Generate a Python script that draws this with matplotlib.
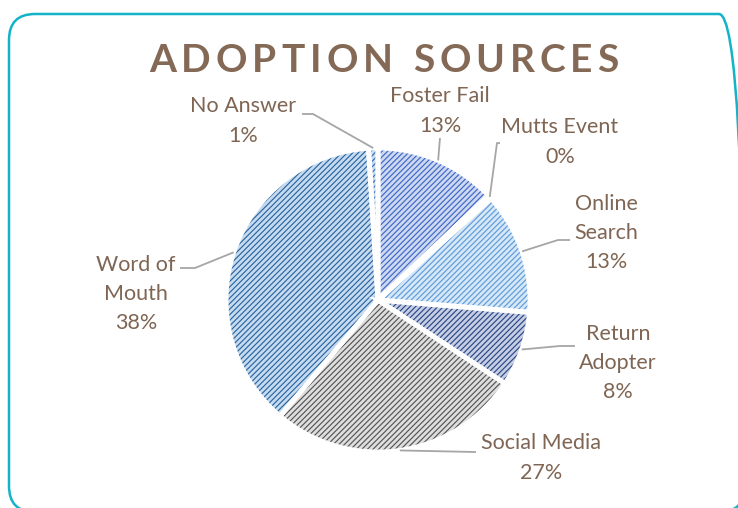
import matplotlib.pyplot as plt
import numpy as np
from matplotlib.patches import FancyBboxPatch

# Data
labels = ['Foster Fail', 'Mutts Event', 'Online\nSearch', 'Return\nAdopter',
          'Social Media', 'Word of\nMouth', 'No Answer']
values = [13, 0.4, 13, 8, 27, 38, 1]
pct_text = ['13%', '0%', '13%', '8%', '27%', '38%', '1%']
title = 'ADOPTION SOURCES'

fill_colors = ['#cdd8f2', '#cdd8f2', '#d6e7f7', '#c6cee4', '#dedede', '#c6dbef', '#c6dbef']
hatch_colors = ['#4068c6', '#4068c6', '#5e9cdb', '#2a4787', '#555555', '#2a66a3', '#3a70b3']

brown = '#7f6553'
plt.rcParams['hatch.linewidth'] = 0.85

fig = plt.figure(figsize=(7.38, 5.08), dpi=100)
ax = fig.add_axes([0, 0, 1, 1])
ax.set_xlim(0, 738)
ax.set_ylim(0, 508)

# pie placed in pixel coordinates (y measured from bottom)
cx, cy, r = 378, 508 - 300, 152

# base fill
ax.pie(values, colors=fill_colors, startangle=90, counterclock=False,
       center=(cx, cy), radius=r, wedgeprops=dict(linewidth=0))
# hatch layer
wedges, _ = ax.pie(values, colors=['none'] * len(values), startangle=90, counterclock=False,
                   center=(cx, cy), radius=r, wedgeprops=dict(linewidth=0))
for w, hc in zip(wedges, hatch_colors):
    w.set_facecolor('none')
    w.set_edgecolor(hc)
    w.set_hatch('//////')
    w.set_linewidth(0)
# white separators
ax.pie(values, colors=['none'] * len(values), startangle=90, counterclock=False,
       center=(cx, cy), radius=r, wedgeprops=dict(linewidth=3.5, edgecolor='white', facecolor='none'))

# label positions (pixel coords, y from top) and elbow points for leader lines
label_pos = [(440, 111), (560, 142), (606, 233), (618, 363), (541, 458), (136, 294), (243, 121)]
elbows = [[(440, 138)], [(497, 143), (500, 143)], [(558, 240), (570, 240)],
          [(560, 346), (575, 346)], [(475, 452), (476, 452)], [(195, 268), (180, 268)],
          [(313, 114), (302, 114)]]

total = sum(values)
cum = np.cumsum([0] + values)
for i, lab in enumerate(labels):
    mid = 90 - 360 * (cum[i] + values[i] / 2) / total
    pts = [(cx + r * np.cos(np.radians(mid)), cy + r * np.sin(np.radians(mid)))]
    pts += [(x, 508 - y) for x, y in elbows[i]]
    xs, ys = zip(*pts)
    ax.plot(xs, ys, color='#a6a6a6', linewidth=1.3, solid_capstyle='butt', zorder=1)
    tx, ty = label_pos[i]
    ax.text(tx, 508 - ty, lab + '\n' + pct_text[i], ha='center', va='center',
            color=brown, fontsize=15.5, family='Lato', linespacing=1.58)

# title with letter spacing: draw each character
renderer = fig.canvas.get_renderer()
tracking = 5.0
chars = []
widths = []
for ch in title:
    t = ax.text(0, 508 - 61, ch, ha='left', va='center', color='#846a56',
                fontsize=28, fontweight='bold', family='Lato')
    w = t.get_window_extent(renderer).width if ch != ' ' else 10
    chars.append(t)
    widths.append(w)
total_w = sum(widths) + tracking * (len(title) - 1)
x = 384 - total_w / 2
for t, w in zip(chars, widths):
    t.set_x(x)
    x += w + tracking

border = FancyBboxPatch((9, 508 - 512), 736, 502 - 4, boxstyle='round,pad=0,rounding_size=26',
                        facecolor='none', edgecolor='#13b3c8', linewidth=1.8, zorder=0)
ax.add_patch(border)

ax.set_xlim(0, 738)
ax.set_ylim(0, 508)
ax.set_aspect('equal')
ax.axis('off')

fig.savefig('out.png', dpi=100)
